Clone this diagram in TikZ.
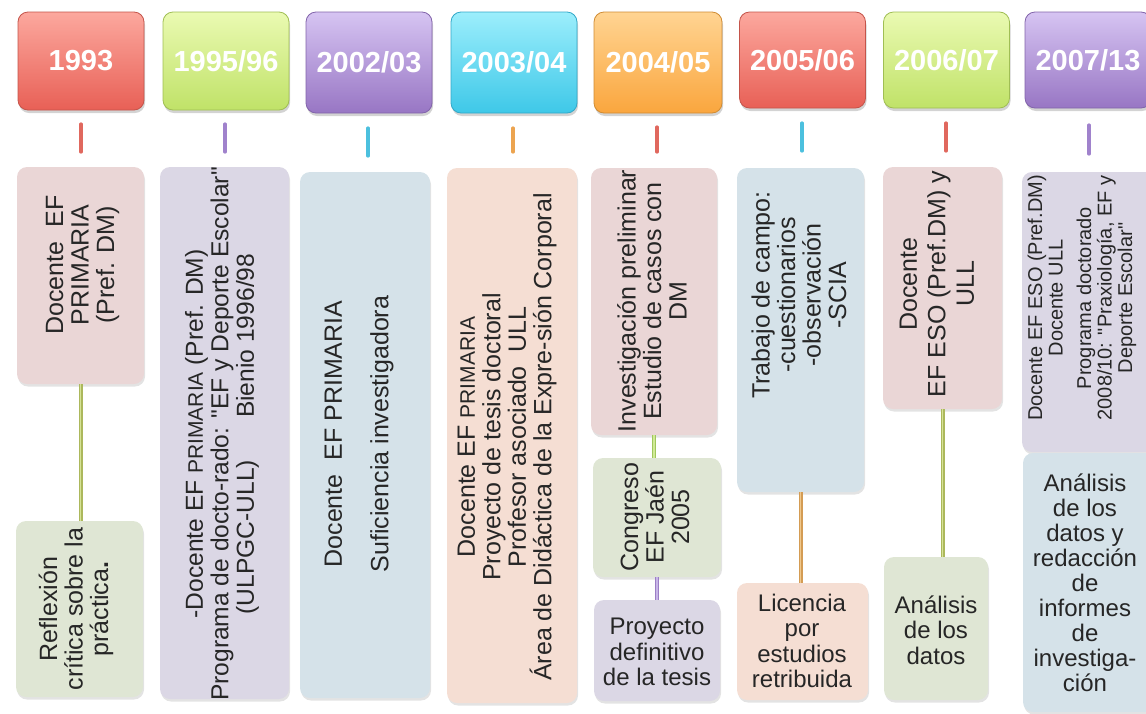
\documentclass[tikz,border=0pt]{standalone}
\usepackage{fontspec}
\setmainfont{Liberation Sans}
\usetikzlibrary{shadows}

% header colours (top / bottom / edge)
\definecolor{redTop}{RGB}{252,168,158}
\definecolor{redBot}{RGB}{232,96,86}
\definecolor{redEdge}{RGB}{196,84,74}
\definecolor{greenTop}{RGB}{234,250,178}
\definecolor{greenBot}{RGB}{192,226,104}
\definecolor{greenEdge}{RGB}{160,190,84}
\definecolor{purpleTop}{RGB}{214,196,242}
\definecolor{purpleBot}{RGB}{152,118,196}
\definecolor{purpleEdge}{RGB}{130,100,170}
\definecolor{cyanTop}{RGB}{156,238,252}
\definecolor{cyanBot}{RGB}{62,200,232}
\definecolor{cyanEdge}{RGB}{50,168,200}
\definecolor{orangeTop}{RGB}{255,212,146}
\definecolor{orangeBot}{RGB}{250,166,62}
\definecolor{orangeEdge}{RGB}{208,140,52}
% pastel panels
\definecolor{pinkP}{RGB}{234,214,214}
\definecolor{greenP}{RGB}{223,230,212}
\definecolor{lavP}{RGB}{219,215,229}
\definecolor{blueP}{RGB}{213,226,233}
\definecolor{peachP}{RGB}{245,222,211}
% small bars and links
\definecolor{tickRed}{RGB}{224,104,94}
\definecolor{tickPurple}{RGB}{160,130,204}
\definecolor{tickCyan}{RGB}{76,192,222}
\definecolor{tickOrange}{RGB}{236,164,80}
\definecolor{oliveD}{RGB}{172,184,92}
\definecolor{oliveL}{RGB}{214,226,150}
\definecolor{greenD}{RGB}{160,198,92}
\definecolor{greenL}{RGB}{208,234,150}
\definecolor{purpleD}{RGB}{156,126,198}
\definecolor{purpleL}{RGB}{200,182,232}
\definecolor{orangeD}{RGB}{212,156,84}
\definecolor{orangeL}{RGB}{240,200,140}

\newcommand\yearfont{\fontsize{29}{32}\selectfont\bfseries}
\newcommand\bodyfont{\fontsize{25}{25.5}\selectfont}
\newcommand\flatfont{\fontsize{24}{25.5}\selectfont}
\newcommand\smallbody{\fontsize{21}{25.5}\selectfont}
\newcommand\notefont{\fontsize{20}{20.5}\selectfont}
\newcommand\dq{\textquotedbl}

\begin{document}
\begin{tikzpicture}[x=1pt,y=-1pt,
  yearbox/.style={rounded corners=10pt, minimum width=126pt, inner sep=0pt,
    top color=#1Top, bottom color=#1Bot, draw=#1Edge, line width=0.8pt,
    text=white, font=\yearfont,
    drop shadow={shadow xshift=1pt, shadow yshift=-3pt, opacity=0.35}},
  panel/.style={rounded corners=10pt, inner sep=0pt, fill=#1, draw=none,
    drop shadow={shadow xshift=1pt, shadow yshift=-2.5pt, opacity=0.22}},
  vtext/.style={rotate=90, align=center, font=\bodyfont, text=black!85, inner sep=0pt},
  htext/.style={align=center, font=\flatfont, text=black!85, inner sep=0pt},
  tickbar/.style={line width=3.2pt, line cap=round, draw=#1},
  link/.style={line width=4pt, draw=#1},
  linkhi/.style={line width=1.5pt, draw=#1},
]
\useasboundingbox (0,0) rectangle (1146,713);
\clip (0,0) rectangle (1146,713);

% ---- year headers
\node[yearbox=red,    minimum height=98pt]  (y1) at (81,61)     {1993};
\node[yearbox=green,  minimum height=98pt]  (y2) at (226,61)    {1995/96};
\node[yearbox=purple, minimum height=101pt] (y3) at (369,62.5)  {2002/03};
\node[yearbox=cyan,   minimum height=101pt] (y4) at (514,62.5)  {2003/04};
\node[yearbox=orange, minimum height=101pt, minimum width=128pt] (y5) at (658,62.5) {2004/05};
\node[yearbox=red,    minimum height=96pt]  (y6) at (802.5,60)  {2005/06};
\node[yearbox=green,  minimum height=96pt]  (y7) at (946.5,60)  {2006/07};
\node[yearbox=purple, minimum height=96pt]  (y8) at (1088,60)   {2007/13};

% ---- small bars under the headers
\draw[tickbar=tickRed]    (81,124)  -- (81,152);
\draw[tickbar=tickPurple] (225,124) -- (225,152);
\draw[tickbar=tickCyan]   (368,128) -- (368,156);
\draw[tickbar=tickOrange] (513,128) -- (513,152);
\draw[tickbar=tickRed]    (657,127) -- (657,152);
\draw[tickbar=tickCyan]   (802,123) -- (802,151);
\draw[tickbar=tickRed]    (946,123) -- (946,151);
\draw[tickbar=tickPurple] (1089,125) -- (1089,154);

% ---- panels
\node[panel=pinkP,  minimum width=127pt, minimum height=217pt] (c1a) at (80.5,275.5) {};
\node[panel=greenP, minimum width=127pt, minimum height=176pt] (c1b) at (79.5,609)   {};
\node[panel=lavP,   minimum width=129pt, minimum height=532pt] (c2)  at (224.5,433)  {};
\node[panel=blueP,  minimum width=130pt, minimum height=526pt] (c3)  at (365,435)    {};
\node[panel=peachP, minimum width=130pt, minimum height=535pt] (c4)  at (512,435.5)  {};
\node[panel=pinkP,  minimum width=126pt, minimum height=267pt] (c5a) at (654,301.5)  {};
\node[panel=greenP, minimum width=128pt, minimum height=119pt] (c5b) at (657,517.5)  {};
\node[panel=lavP,   minimum width=126pt, minimum height=101pt] (c5c) at (657,650.5)  {};
\node[panel=blueP,  minimum width=127pt, minimum height=324pt] (c6a) at (800.5,330)  {};
\node[panel=peachP, minimum width=131pt, minimum height=117pt] (c6b) at (802.5,641.5) {};
\node[panel=pinkP,  minimum width=119pt, minimum height=242pt] (c7a) at (942.5,288)  {};
\node[panel=greenP, minimum width=104pt, minimum height=143pt] (c7b) at (936,628.5)  {};
\node[panel=lavP,   minimum width=138pt, minimum height=280pt] (c8a) at (1091,312)   {};
\node[panel=blueP,  minimum width=137pt, minimum height=259pt] (c8b) at (1091.5,582.5) {};

% ---- links between panels
\foreach \a/\b/\d/\l in {c1a/c1b/oliveD/oliveL, c5a/c5b/greenD/greenL,
                         c5b/c5c/purpleD/purpleL, c6a/c6b/orangeD/orangeL,
                         c7a/c7b/oliveD/oliveL}{
  \draw[link=\d]   (\a.south) -- (\a.south |- \b.north);
  \draw[linkhi=\l] (\a.south) -- (\a.south |- \b.north);
}

% ---- panel texts
\node[vtext] (t1a) at (82.5,265) {Docente\ \ EF\\PRIMARIA\\(Pref. DM)};
\node[vtext] (t1b) at (76,609) {Reflexión\\crítica sobre la\\práctica\textbf{.}};
\node[vtext, font=\fontsize{24.6}{25.5}\selectfont] (t2) at (222,434) {-Docente EF {\smallbody PRIMARIA}\ (Pref. DM)\\
  Programa de docto-rado: \dq EF y Deporte Escolar\dq\\
  (ULPGC-ULL)\hspace{42pt}Bienio 1996/98};
\node[vtext] (t3) at (359,434) {Docente\ \ EF PRIMARIA\\[21pt]Suficiencia investigadora};
\node[vtext] (t4) at (507,437) {Docente EF {\smallbody PRIMARIA}\\Proyecto de tesis doctoral\\
  Profesor asociado\ \ ULL\\Área de Didáctica de la Expre-sión Corporal};
\node[vtext] (t5a) at (652,301) {Investigación preliminar\\Estudio de casos con\\DM};
\node[vtext] (t5b) at (655,517) {Congreso\\EF Jaén\\2005};
\node[vtext] (t6a) at (799,295) {Trabajo de campo:\\-cuestionarios\\-observación\\-SCIA};
\node[vtext] (t7a) at (937,284) {Docente\\[3pt]EF ESO (Pref.DM) y\\[3pt]ULL};
\node[vtext, font=\notefont] (t8a) at (1082,298) {Docente EF ESO (Pref.DM)\\Docente ULL\\[8pt]
  Programa doctorado\\2008/10: \dq Praxiología, EF y\\Deporte Escolar\dq};

\node[htext] (t5c) at (657,652) {Proyecto\\definitivo\\de la tesis};
\node[htext] (t6b) at (802,641) {Licencia\\por\\estudios\\retribuida};
\node[htext] (t7b) at (936,630) {Análisis\\de los\\datos};
\node[htext, font=\fontsize{24}{25}\selectfont] (t8b) at (1085,583)
  {Análisis\\de los\\datos y\\redacción\\de\\informes\\de\\investiga-\\ción};
\end{tikzpicture}
\end{document}
